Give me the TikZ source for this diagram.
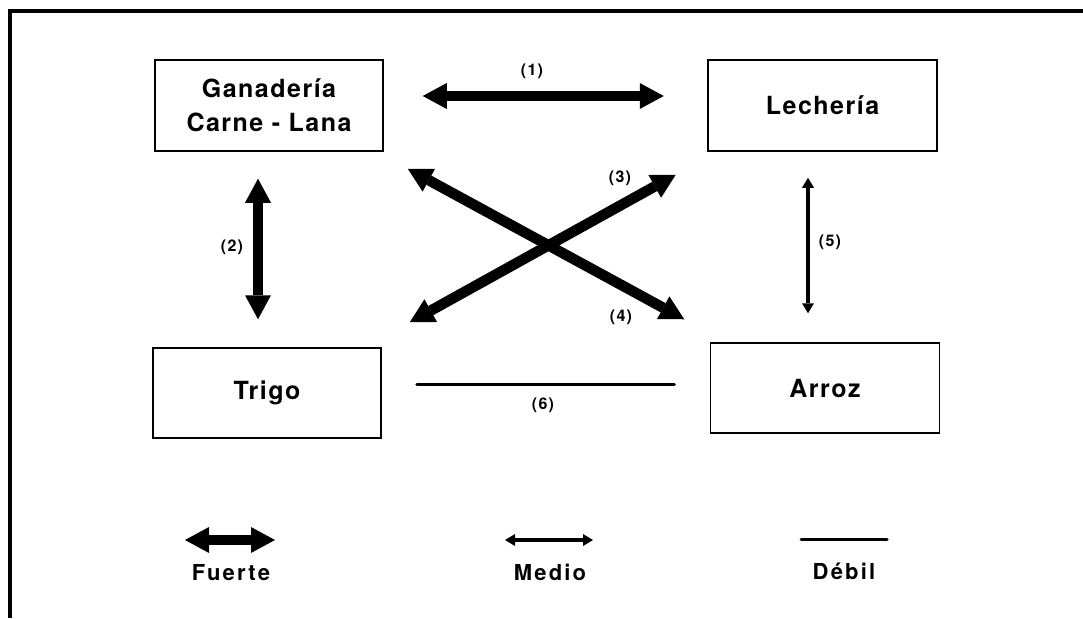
\documentclass[tikz,border=0pt]{standalone}
\usepackage{fontspec}
\setmainfont{TeX Gyre Heros}
\newfontfamily\boxfont[LetterSpace=6]{TeX Gyre Heros}
\newfontfamily\legfont[LetterSpace=10]{TeX Gyre Heros}
\newfontfamily\numfont[LetterSpace=8]{TeX Gyre Heros}
\usetikzlibrary{arrows.meta,calc}

\tikzset{
  unit/.style={draw, line width=1.5pt, minimum width=228pt, minimum height=91pt,
    inner sep=0pt, align=center,
    font=\fontsize{25}{34}\selectfont\boxfont\bfseries},
  bigtip/.tip={Triangle[length=24pt,width=26pt,line width=0pt]},
  smalltip/.tip={Triangle[length=10pt,width=12pt,line width=0pt]},
  fuerte/.style={line width=10.5pt, arrows={bigtip-bigtip}},
  medio/.style={line width=4.5pt, arrows={smalltip-smalltip}},
  debil/.style={line width=3pt, line cap=round},
  num/.style={font=\fontsize{16}{16}\selectfont\numfont\bfseries, inner sep=0pt},
  legend/.style={font=\fontsize{22}{22}\selectfont\legfont\bfseries, inner sep=0pt},
}

\begin{document}
\begin{tikzpicture}[x=1pt, y=-1pt]
\useasboundingbox (0,0) rectangle (1083,618);

% outer frame (top and left edges)
\draw[line width=4pt] (1083,11) -- (10,11) -- (10,618);

% activity boxes
\node[unit] (gan) at (269,105.5) {Ganadería\\Carne - Lana};
\node[unit, minimum width=229pt] (lec) at (822.5,105.5) {Lechería};
\node[unit, minimum height=90pt] (tri) at (267,393) {Trigo};
\node[unit, minimum width=229pt, minimum height=90pt] (arr) at (825,388) {Arroz};

% relations
\draw[fuerte] ([shift={(39,-9.5)}]gan.east) -- ([shift={(-43.5,-9.5)}]lec.west);
\draw[fuerte] ([shift={(-11,27)}]gan.south) -- ([shift={(-9,-28)}]tri.north);
\draw[fuerte] ([shift={(28,-25)}]tri.north east) -- ([shift={(-31.5,23)}]lec.south west);
\draw[fuerte] ([shift={(24,17)}]gan.south east) -- ([shift={(-25.5,-23)}]arr.north west);
\draw[medio] ([shift={(-14.5,26)}]lec.south) -- ([shift={(-17,-29)}]arr.north);
\draw[debil] ([shift={(35,-9)}]tri.east) -- ([shift={(-35.5,-4)}]arr.west);

% relation numbers
\node[num] (n1) at (532,71) {(1)};
\node[num] (n2) at (232,247) {(2)};
\node[num] (n3) at (620,178) {(3)};
\node[num] (n4) at (621,317) {(4)};
\node[num] (n5) at (830,242) {(5)};
\node[num] (n6) at (543,405) {(6)};

% legend
\coordinate (fa) at (185,540);
\coordinate (fb) at (275,540);
\draw[fuerte] (fa) -- (fb);
\node[legend] (fl) at (231,573) {Fuerte};

\coordinate (ma) at (505,540);
\coordinate (mb) at (593,540);
\draw[medio] (ma) -- (mb);
\node[legend] (ml) at (550,572) {Medio};

\coordinate (da) at (801,539);
\coordinate (db) at (887,539);
\draw[debil] (da) -- (db);
\node[legend] (dl) at (844,571) {Débil};
\end{tikzpicture}
\end{document}
